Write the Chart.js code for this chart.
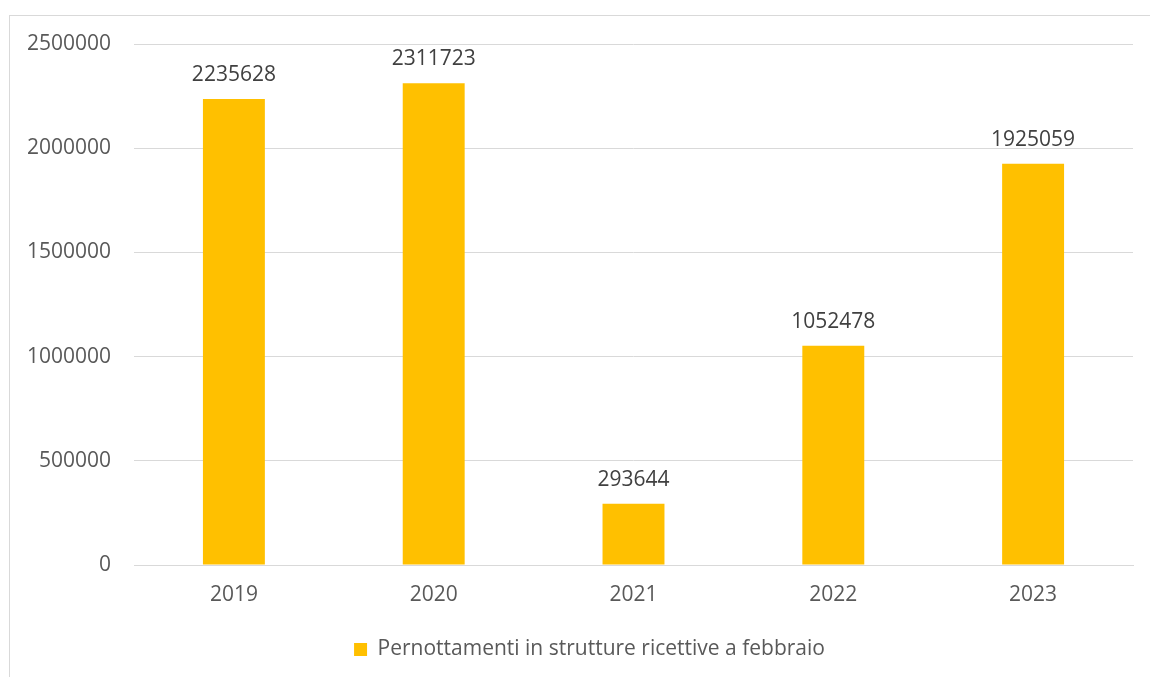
<!DOCTYPE html>
<html lang="it">
<head>
  <meta charset="UTF-8" />
  <title>Pernottamenti a febbraio</title>
  <script src="https://cdn.jsdelivr.net/npm/chart.js"></script>
  <style>
    html, body { margin: 0; padding: 0; background: #fff; overflow: hidden; }
    .frame {
      position: absolute; left: 9px; top: 15px;
      width: 1200px; height: 720px;
      border: 1px solid #d9d9d9;
    }
    .wrap { position: absolute; left: 0; top: 0; width: 1150px; height: 677px; }
  </style>
</head>
<body>
  <div class="frame"></div>
  <div class="wrap"><canvas id="nightsChart" width="1150" height="677"></canvas></div>

  <script>
    const years = ['2019', '2020', '2021', '2022', '2023'];
    const nights = [2235628, 2311723, 293644, 1052478, 1925059];
    const seriesName = 'Pernottamenti in strutture ricettive a febbraio';
    const yTicks = [0, 500000, 1000000, 1500000, 2000000, 2500000];

    const FONT = "'Open Sans', sans-serif";
    const GREY = '#d9d9d9';

    // writes each value just above its bar
    const valueLabels = {
      id: 'valueLabels',
      afterDatasetsDraw(chart) {
        const ctx = chart.ctx;
        const meta = chart.getDatasetMeta(0);
        ctx.save();
        ctx.font = '21px ' + FONT;
        ctx.fillStyle = '#404040';
        ctx.textAlign = 'center';
        ctx.textBaseline = 'alphabetic';
        meta.data.forEach((bar, i) => {
          ctx.fillText(String(chart.data.datasets[0].data[i]), bar.x, bar.y - 18);
        });
        ctx.restore();
      }
    };

    // nudge the legend a bit to the right of the canvas centre
    const legendShift = {
      id: 'legendShift',
      afterLayout(chart) {
        if (chart.legend) {
          chart.legend.left += 23;
          chart.legend.right += 23;
        }
      }
    };

    new Chart(document.getElementById('nightsChart'), {
      type: 'bar',
      data: {
        labels: years,
        datasets: [{
          label: seriesName,
          data: nights,
          backgroundColor: '#ffc000',
          categoryPercentage: 1,
          barPercentage: 0.31
        }]
      },
      options: {
        responsive: false,
        animation: false,
        layout: { padding: { left: 0, right: 17, top: 44, bottom: 7 } },
        plugins: {
          tooltip: { enabled: false },
          legend: {
            position: 'bottom',
            labels: {
              boxWidth: 13,
              boxHeight: 13,
              padding: 10,
              color: '#595959',
              font: { family: FONT, size: 21 }
            }
          }
        },
        scales: {
          x: {
            grid: { display: false },
            border: { display: true, color: GREY, width: 1 },
            ticks: { color: '#595959', font: { family: FONT, size: 21 }, padding: 9 },
            afterFit(scale) { scale.height = 64; }
          },
          y: {
            min: 0,
            max: 2500000,
            afterBuildTicks(scale) { scale.ticks = yTicks.map(v => ({ value: v })); },
            grid: { color: GREY, drawTicks: false },
            border: { display: false },
            ticks: {
              color: '#595959',
              font: { family: FONT, size: 21 },
              padding: 23,
              callback: v => String(v)
            },
            afterFit(scale) { scale.width = 134; }
          }
        }
      },
      plugins: [valueLabels, legendShift]
    });
  </script>
</body>
</html>
